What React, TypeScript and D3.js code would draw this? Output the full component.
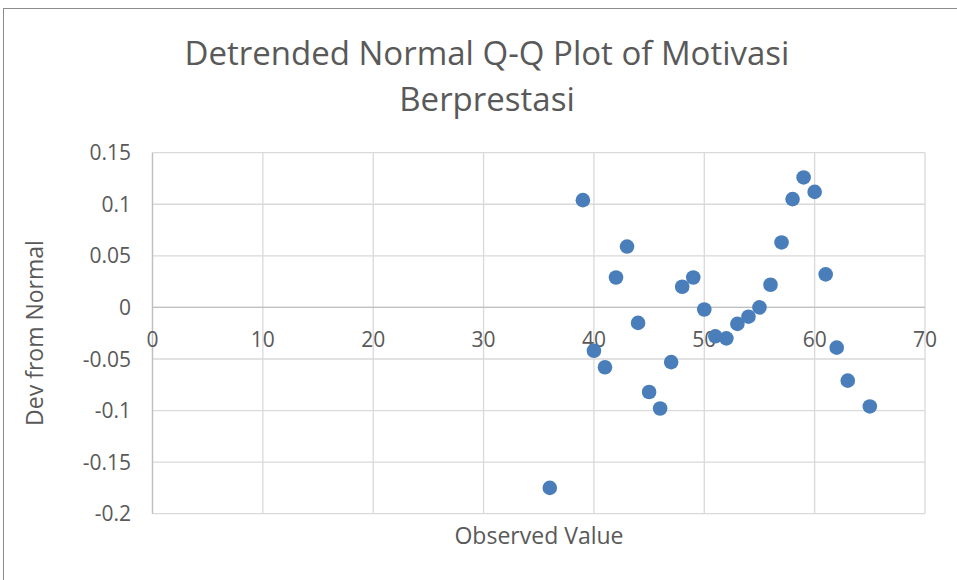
import React, { useEffect, useRef } from 'react';
import * as d3 from 'd3';

// observed values and their deviation from normal
const observed = [36, 39, 40, 41, 42, 43, 44, 45, 46, 47, 48, 49, 50, 51, 52, 53, 54, 55, 56, 57, 58, 59, 60, 61, 62, 63, 65];
const devFromNormal = [-0.175, 0.104, -0.042, -0.058, 0.029, 0.059, -0.015, -0.082, -0.098, -0.053, 0.020, 0.029, -0.002, -0.028, -0.030, -0.016, -0.009, 0.000, 0.022, 0.063, 0.105, 0.126, 0.112, 0.032, -0.039, -0.071, -0.096];
const xTicks = [0, 10, 20, 30, 40, 50, 60, 70];
const yTicks = [0.15, 0.1, 0.05, 0, -0.05, -0.1, -0.15, -0.2];

const W = 957;
const H = 580;
const FONT = '"Open Sans", "Liberation Sans", sans-serif';

const App = () => {
	const ref = useRef<SVGSVGElement>(null);

	useEffect(() => {
		const svg = d3.select(ref.current);
		svg.selectAll('*').remove();

		// chart frame (runs off the right and bottom of the picture)
		svg.append('rect')
			.attr('x', 3.5).attr('y', 8.5)
			.attr('width', W + 20).attr('height', H + 20)
			.attr('fill', '#fff').attr('stroke', '#8c8c8c').attr('stroke-width', 1);

		const x = d3.scaleLinear().domain([0, 70]).range([152.5, 925]);
		const y = d3.scaleLinear().domain([-0.2, 0.15]).range([513.7, 152.7]);

		// grid
		svg.append('g').selectAll('line').data(yTicks).enter().append('line')
			.attr('x1', x(0)).attr('x2', x(70))
			.attr('y1', d => y(d)).attr('y2', d => y(d))
			.attr('stroke', '#d9d9d9').attr('stroke-width', 1.3);
		svg.append('g').selectAll('line').data(xTicks).enter().append('line')
			.attr('x1', d => x(d)).attr('x2', d => x(d))
			.attr('y1', y(0.15)).attr('y2', y(-0.2))
			.attr('stroke', '#d9d9d9').attr('stroke-width', 1.3);

		// axis lines
		svg.append('line')
			.attr('x1', x(0)).attr('x2', x(70)).attr('y1', y(0)).attr('y2', y(0))
			.attr('stroke', '#bfbfbf').attr('stroke-width', 1.3);
		svg.append('line')
			.attr('x1', x(0)).attr('x2', x(0)).attr('y1', y(0.15)).attr('y2', y(-0.2))
			.attr('stroke', '#bfbfbf').attr('stroke-width', 1.3);

		// tick labels
		svg.append('g').selectAll('text').data(yTicks).enter().append('text')
			.text(d => String(d))
			.attr('x', 131).attr('y', d => y(d)).attr('dy', '0.36em')
			.attr('text-anchor', 'end')
			.style('font-family', FONT).style('font-size', '21px').attr('fill', '#595959');
		svg.append('g').selectAll('text').data(xTicks).enter().append('text')
			.text(d => String(d))
			.attr('x', d => x(d)).attr('y', 347)
			.attr('text-anchor', 'middle')
			.style('font-family', FONT).style('font-size', '21px').attr('fill', '#595959');

		// points
		svg.append('g').selectAll('circle').data(observed).enter().append('circle')
			.attr('cx', d => x(d))
			.attr('cy', (d, i) => y(devFromNormal[i]))
			.attr('r', 7.3)
			.attr('fill', '#4a7ebb');

		// titles
		const title = svg.append('text')
			.attr('text-anchor', 'middle')
			.style('font-family', FONT).style('font-size', '33px').attr('fill', '#595959');
		title.append('tspan').attr('x', 487).attr('y', 65).text('Detrended Normal Q-Q Plot of Motivasi');
		title.append('tspan').attr('x', 487).attr('y', 111).text('Berprestasi');

		svg.append('text')
			.text('Observed Value')
			.attr('x', 539).attr('y', 544)
			.attr('text-anchor', 'middle')
			.style('font-family', FONT).style('font-size', '23px').attr('fill', '#595959');

		svg.append('text')
			.text('Dev from Normal')
			.attr('transform', 'translate(43,333) rotate(-90)')
			.attr('text-anchor', 'middle')
			.style('font-family', FONT).style('font-size', '23px').attr('fill', '#595959');
	}, []);

	return (
		<div style={{ position: 'fixed', left: 0, top: 0 }}>
			<svg ref={ref} width={W} height={H} style={{ display: 'block', background: '#fff' }}></svg>
		</div>
	);
};

export default App;
